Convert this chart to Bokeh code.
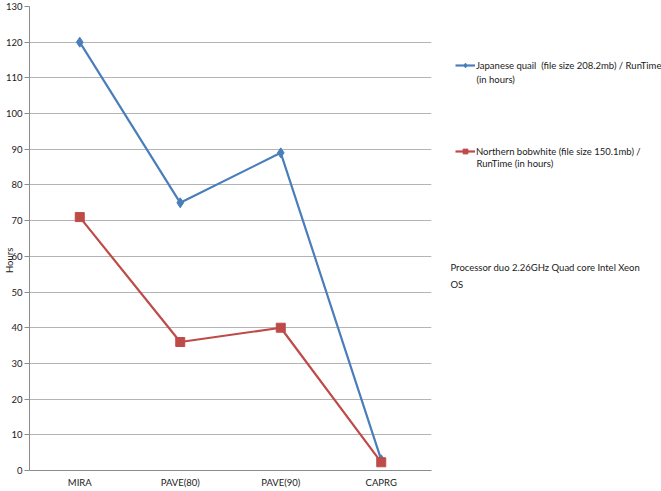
from bokeh.plotting import figure
from bokeh.models import Legend, LegendItem, Label, FactorRange, Range1d, SingleIntervalTicker
from bokeh.layouts import row
from bokeh.embed import file_html
from bokeh.resources import INLINE

categories = ["MIRA", "PAVE(80)", "PAVE(90)", "CAPRG"]
quail = [120, 75, 89, 3]
bobwhite = [71, 36, 40, 2.3]
quail_label = ["Japanese quail  (file size 208.2mb) / RunTime", "(in hours)"]
bob_label = ["Northern bobwhite (file size 150.1mb) /", "RunTime (in hours)"]
note = "Processor duo 2.26GHz Quad core Intel Xeon\nOS"
y_title = "Hours"

FONT = "Lato"
FS = "9.5px"
TXT = "#1a1a1a"
BLUE = "#4a7ebb"
RED = "#be4b48"
H = 491
W1 = 433
W2 = 228

p = figure(width=W1, height=H, output_backend="svg", toolbar_location=None,
           x_range=FactorRange(*categories, range_padding=0), y_range=Range1d(0, 130),
           min_border_left=27, min_border_right=2, min_border_top=6, min_border_bottom=21)
p.outline_line_color = None

p.xgrid.grid_line_color = None
p.ygrid.grid_line_color = "#b4b4b4"
p.ygrid.grid_line_width = 1

p.yaxis.ticker = SingleIntervalTicker(interval=10)
p.yaxis.minor_tick_line_color = None
p.yaxis.major_tick_in = 0
p.yaxis.major_tick_out = 5
p.yaxis.major_tick_line_color = "#8c8c8c"
p.yaxis.major_label_standoff = 2
p.yaxis.axis_label = y_title + "\u00a0" * 18
p.yaxis.axis_label_standoff = -12
p.yaxis.axis_label_text_font = FONT
p.yaxis.axis_label_text_font_size = FS
p.yaxis.axis_label_text_font_style = "normal"
p.yaxis.axis_label_text_color = TXT
p.xaxis.major_tick_line_color = None
p.xaxis.major_tick_in = 0
p.xaxis.major_tick_out = 0
p.xaxis.major_label_standoff = 6
for ax in (p.xaxis[0], p.yaxis[0]):
    ax.axis_line_color = "#8c8c8c"
    ax.major_label_text_font = FONT
    ax.major_label_text_font_size = FS
    ax.major_label_text_color = TXT

p.line(categories, quail, line_color=BLUE, line_width=2.2)
p.scatter(categories, quail, marker="diamond", size=10, fill_color=BLUE, line_color=BLUE)
p.line(categories, bobwhite, line_color=RED, line_width=2.2)
p.scatter(categories, bobwhite, marker="square", size=9, fill_color=RED, line_color=RED)

# side panel holding the legend and the note
p2 = figure(width=W2, height=H, output_backend="svg", toolbar_location=None,
            x_range=Range1d(0, W2), y_range=Range1d(0, H),
            min_border_left=0, min_border_right=0, min_border_top=0, min_border_bottom=0)
p2.axis.visible = False
p2.grid.grid_line_color = None
p2.outline_line_color = None

nan = [float("nan")]
lq = p2.line(nan, nan, line_color=BLUE, line_width=2.2)
sq = p2.scatter(nan, nan, marker="diamond", size=8, fill_color=BLUE, line_color=BLUE)
lb = p2.line(nan, nan, line_color=RED, line_width=2.2)
sb = p2.scatter(nan, nan, marker="square", size=8, fill_color=RED, line_color=RED)

def make_legend(label, renderers, y):
    lg = Legend(items=[LegendItem(label=label, renderers=renderers)],
                location=(22, y), padding=0, margin=0, border_line_color=None,
                background_fill_alpha=0, glyph_width=20, glyph_height=12, label_height=12,
                label_standoff=1, label_text_font=FONT, label_text_font_size=FS,
                label_text_color=TXT)
    p2.add_layout(lg, "center")

make_legend(quail_label[0], [lq, sq], 399)
make_legend(bob_label[0], [lb, sb], 313)

def txt(t, x, y, **kw):
    p2.add_layout(Label(x=x, y=y, text=t, text_font=FONT, text_font_size=FS,
                        text_color=TXT, **kw))

txt(quail_label[1], 43, 414, text_baseline="middle")
txt(bob_label[1], 43, 325, text_baseline="middle")
txt(note, 17, 221, text_baseline="top", text_line_height=1.55)

layout = row(p, p2)
open("out.html", "w").write(file_html(layout, INLINE))
